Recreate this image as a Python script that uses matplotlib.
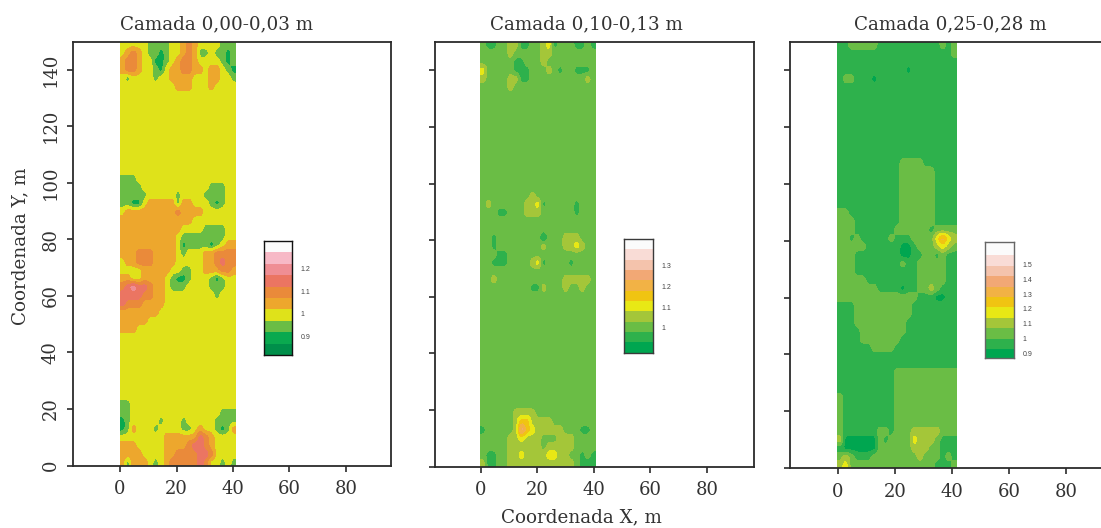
import numpy as np
import matplotlib
matplotlib.use("Agg")
import matplotlib.pyplot as plt
from matplotlib.colors import ListedColormap

W, H = 1101, 528

titles = ["Camada 0,00-0,03 m", "Camada 0,10-0,13 m", "Camada 0,25-0,28 m"]
x_ticks = [0, 20, 40, 60, 80]
y_ticks = [0, 20, 40, 60, 80, 100, 120, 140]

colors_top = ["#008f4a", "#0aa94f", "#6abd45", "#dfe21a", "#eda72d", "#ea8a3a",
              "#eb7562", "#ef8e94", "#f7b9c6", "#fbfbfb"]
colors_deep = ["#00a650", "#2eb14c", "#6abd45", "#a4c639", "#e8e815", "#f0c412",
               "#f2b245", "#f2a875", "#f4c3ac", "#f9dcd6", "#fbfbfb"]

# class of each 2 x 3 m cell, from y=150 down to y=0
blank3 = "333333333333333333333"
blank2 = "222222222222222222222"
blank1 = "111111111111111111111"

map_top = [
    "333332222334543333222", "345432212334542232212", "455433112345543333212",
    "455433213445544344321", "323333233444433344332", "333333333344433343333",
] + [blank3] * 10 + [
    "222333333333333333333", "222233333333333322233", "222223333323333222233",
    "221134444424433321233", "344444444454444333333", "444444444444433333333",
    "444444444443333222233", "444444444432222222233", "444444444431222212344",
    "444555444432333445555", "344555444433333445655", "333344444332233444554",
    "443344443211233321233", "567665443222333322233", "666655443333333332333",
    "655544443333333333333", "444444433333333333333", "444443333333333333333",
    "444333333333333333333",
] + [blank3] * 8 + [
    "223333333333333333333", "223333333333333333222", "123333323332333332222",
    "124333233332234332124", "333333334444446543333", "444333334444566543333",
    "444433334455556653333", "424443234555556533232",
]

map_mid = [
    "211223311223412221121", "222223222223322222222", "222222112223222222222",
    "422222111222321221112", "322223311222222222232", "222223222222222222222",
] + [blank2] * 12 + [
    "222222222322222222222", "232222223341222221222", "222112223332222221222",
    blank2, blank2,
    "221222222220222333222", "221222222223222334322", "222112222222222222222",
    "221112222341222212222", blank2,
    "223222222222222333332", "222222222113222322322",
] + [blank2] * 14 + [
    "222222333322222222222", "222222355333322222222", "122222375433333222112",
    "222223343332223332222", "222223333332333332222", "211223343333443322121",
    "311223333333333332111",
]

map_deep = [
    "112222211111111111212", "111111111111111111112", blank1,
    "111111111111011111111", "122111011111111111111",
] + [blank1] * 9 + [
    "111111111112222111111",
] + ["111111111112222221111"] * 5 + [
    "221111111112222221111", "222111111112222221111", "222111111122222212222",
    "221211111211122224643", "222221111110012223432", "222111111110011221211",
    "222111111112112222211", "222111111111112222211", "222221111111112222211",
    "222222211110112232111", "222222222222221110011", "111222222222211111111",
    "111222222222211111111", "111222222222111111111", "111122222222111111111",
    "111122222221111111111", "111111222211111111111",
    blank1, blank1,
] + ["111111111122222222222"] * 3 + ["211111111122222222222"] * 4 + [
    "211111122122233333222", "300000021222243332111", "100000022222233322111",
    "232111222222223222121", "342222222222222221112",
]

# legend scales
leg_edges_top = [0.82, 0.87, 0.92, 0.97, 1.02, 1.07, 1.12, 1.17, 1.22, 1.27, 1.32]
leg_ticks_top = [0.9, 1.0, 1.1, 1.2]
leg_labels_top = ["0.9", "1", "1.1", "1.2"]
leg_edges_mid = [0.88, 0.93, 0.98, 1.03, 1.08, 1.13, 1.18, 1.23, 1.28, 1.33, 1.38, 1.43]
leg_ticks_mid = [1.0, 1.1, 1.2, 1.3]
leg_labels_mid = ["1", "1.1", "1.2", "1.3"]
leg_edges_deep = [0.87, 0.93, 1.0, 1.07, 1.14, 1.21, 1.28, 1.35, 1.42, 1.49, 1.56, 1.65]
leg_ticks_deep = [0.9, 1.0, 1.1, 1.2, 1.3, 1.4, 1.5]
leg_labels_deep = ["0.9", "1", "1.1", "1.2", "1.3", "1.4", "1.5"]

ink = "#2b2b2b"
plt.rcParams["font.family"] = ["DejaVu Serif"]


def box(fig, left, top, right, bottom):
    # axes from pixel edges
    return fig.add_axes([left / W, 1 - bottom / H, (right - left) / W, (bottom - top) / H])


def soften(rows):
    # each cell becomes 4x4 samples, then a small blur rounds the corners
    grid = np.array([[int(c) for c in row] for row in rows], dtype=float)
    grid = np.repeat(np.repeat(grid, 4, axis=0), 4, axis=1)
    kernel = np.array([1, 2, 2, 2, 1]) / 8
    for axis in (0, 1):
        padded = np.pad(grid, [(2, 2) if a == axis else (0, 0) for a in (0, 1)], mode="edge")
        grid = np.apply_along_axis(lambda v: np.convolve(v, kernel, mode="valid"), axis, padded)
    return grid


def field(ax, rows, colors, strip_right, xlim, ylim, show_y):
    grid = soften(rows)
    xs = np.linspace(0, strip_right, grid.shape[1])
    ys = np.linspace(150, 0, grid.shape[0])
    ax.contourf(xs, ys, grid, levels=np.arange(len(colors) + 1) - 0.5, colors=colors)
    ax.set_xlim(xlim)
    ax.set_ylim(ylim)
    ax.set_xticks(x_ticks)
    ax.set_yticks(y_ticks)
    ax.tick_params(length=4.5, width=1.2, color=ink, labelcolor="#333333", labelsize=13)
    ax.tick_params(axis="x", pad=6)
    if show_y:
        ax.tick_params(axis="y", pad=5)
        plt.setp(ax.get_yticklabels(), rotation=90, va="center")
    else:
        ax.set_yticklabels([])
    for s in ax.spines.values():
        s.set_linewidth(1.3)
        s.set_color(ink)


def legend(fig, pos, edges, colors, ticks, labels, edge):
    leg = box(fig, *pos)
    vals = np.arange(len(colors)).reshape(-1, 1)
    leg.pcolormesh([0, 1], edges, vals, cmap=ListedColormap(colors), shading="flat")
    leg.set_xticks([])
    leg.yaxis.tick_right()
    leg.set_yticks(ticks)
    leg.set_yticklabels(labels, family="Liberation Sans", fontsize=5, color="#444444")
    leg.tick_params(axis="y", length=0, pad=6)
    for s in leg.spines.values():
        s.set_linewidth(1.0)
        s.set_color(edge)


fig = plt.figure(figsize=(W / 100, H / 100), dpi=100)

ax1 = box(fig, 73, 42, 391, 465.5)
field(ax1, map_top, colors_top, 41, (-16.7, 96), (0, 149.8), True)
ax2 = box(fig, 434.7, 42, 754, 466.5)
field(ax2, map_mid, colors_deep, 40.5, (-16.3, 96.6), (0, 150), False)
ax3 = box(fig, 790, 42, 1106, 468)
field(ax3, map_deep, colors_deep, 41.5, (-16.8, 94), (0, 150), False)

legend(fig, (264, 241, 292, 355), leg_edges_top, colors_top, leg_ticks_top, leg_labels_top, "#111111")
legend(fig, (624, 239, 652.7, 352.7), leg_edges_mid, colors_deep, leg_ticks_mid, leg_labels_mid, "#3a3a3a")
legend(fig, (984.7, 242, 1014, 358), leg_edges_deep, colors_deep, leg_ticks_deep, leg_labels_deep, "#666666")

for cx, t in zip([217, 586, 950], titles):
    fig.text(cx / W, 1 - 24 / H, t, ha="center", va="center", fontsize=13.2, color="#333333")
fig.text(581 / W, 1 - 517 / H, "Coordenada X, m", ha="center", va="center", fontsize=13.2, color="#333333")
fig.text(20 / W, 1 - 246 / H, "Coordenada Y, m", ha="center", va="center", rotation=90, fontsize=13.2, color="#333333")

fig.savefig("out.png", dpi=100)
